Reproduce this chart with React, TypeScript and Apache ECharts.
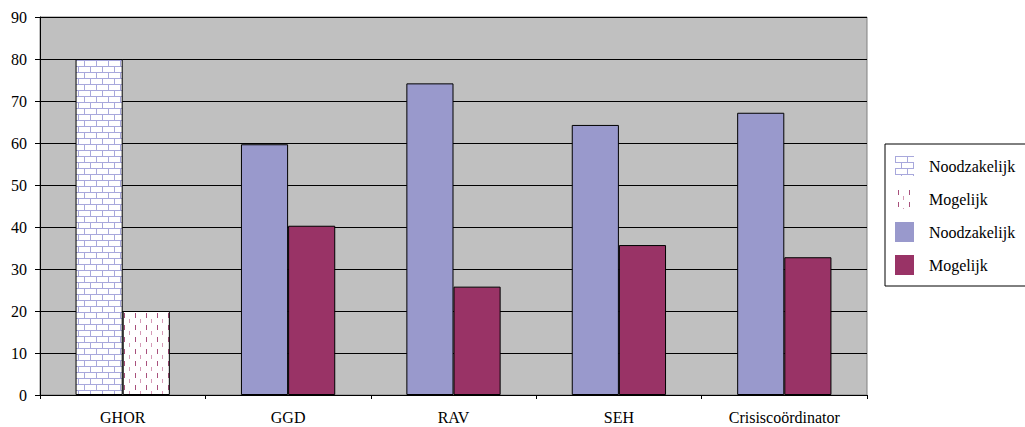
import React, { useEffect, useRef } from "react";
import * as echarts from "echarts";

// Categories and values (percent)
const categories = ["GHOR", "GGD", "RAV", "SEH", "Crisiscoördinator"];
const noodzakelijkGhor = [80, null, null, null, null];
const mogelijkGhor = [20, null, null, null, null];
const noodzakelijk = [null, 59.7, 74.2, 64.3, 67.2];
const mogelijk = [null, 40.3, 25.8, 35.7, 32.8];
const yTicks = { min: 0, max: 90, interval: 10 };

const FONT = '"Liberation Serif", "Times New Roman", Times, "DejaVu Serif", serif';
const BLUE = "#9999CC";
const WINE = "#993366";

function brickTile(): string {
  const c = document.createElement("canvas");
  c.width = 12;
  c.height = 12;
  const ctx = c.getContext("2d")!;
  ctx.fillStyle = "#ffffff";
  ctx.fillRect(0, 0, 12, 12);
  ctx.fillStyle = "#a8a8dc";
  ctx.fillRect(0, 0, 12, 1);
  ctx.fillRect(0, 6, 12, 1);
  ctx.fillRect(0, 0, 1, 6);
  ctx.fillRect(6, 6, 1, 6);
  return c.toDataURL();
}

function dashTile(): string {
  const c = document.createElement("canvas");
  c.width = 11;
  c.height = 12;
  const ctx = c.getContext("2d")!;
  ctx.fillStyle = "#ffffff";
  ctx.fillRect(0, 0, 11, 12);
  ctx.fillStyle = "#a8507c";
  ctx.fillRect(3, 1, 1, 5);
  ctx.fillStyle = "#d59ab6";
  ctx.fillRect(8, 7, 1, 4);
  return c.toDataURL();
}

export default function App() {
  const ref = useRef<HTMLDivElement>(null);

  useEffect(() => {
    if (!ref.current) return;
    const chart = echarts.init(ref.current, null, { renderer: "svg" });

    const brick = { image: brickTile(), repeat: "repeat", imageWidth: 12, imageHeight: 12 };
    const dash = { image: dashTile(), repeat: "repeat", imageWidth: 11, imageHeight: 12 };

    const barBase = {
      type: "bar",
      barGap: "0%",
      barCategoryGap: "43%",
    };

    chart.setOption({
      animation: false,
      textStyle: { fontFamily: FONT },
      grid: {
        left: 40,
        right: 158,
        top: 17,
        bottom: 32,
        show: true,
        backgroundColor: "#C0C0C0",
        borderColor: "#808080",
        borderWidth: 1,
      },
      legend: {
        orient: "vertical",
        left: 885,
        top: 144,
        padding: [12, 40, 11, 10],
        itemWidth: 19,
        itemHeight: 20,
        itemGap: 13,
        borderColor: "#000",
        borderWidth: 1,
        backgroundColor: "#fff",
        icon: "rect",
        itemStyle: { borderWidth: 0 },
        textStyle: { fontFamily: FONT, fontSize: 16, color: "#000", padding: [0, 0, 0, 10] },
        formatter: (name: string) => name.replace(" (GHOR)", ""),
        data: ["Noodzakelijk (GHOR)", "Mogelijk (GHOR)", "Noodzakelijk", "Mogelijk"],
      },
      xAxis: {
        type: "category",
        data: categories,
        axisLine: { lineStyle: { color: "#000", width: 1 } },
        axisTick: { show: true, length: 4, lineStyle: { color: "#000" } },
        axisLabel: { fontFamily: FONT, fontSize: 16, color: "#000", margin: 14 },
        splitLine: { show: false },
      },
      yAxis: {
        type: "value",
        min: yTicks.min,
        max: yTicks.max,
        interval: yTicks.interval,
        axisLine: { show: true, lineStyle: { color: "#000", width: 1 } },
        axisTick: { show: true, length: 5, lineStyle: { color: "#000" } },
        axisLabel: { fontFamily: FONT, fontSize: 16, color: "#000", margin: 13 },
        splitLine: { show: true, lineStyle: { color: "#000", width: 1 } },
      },
      series: [
        {
          ...barBase,
          name: "Noodzakelijk (GHOR)",
          stack: "n",
          data: noodzakelijkGhor,
          itemStyle: { color: brick, borderColor: "#000", borderWidth: 1 },
        },
        {
          ...barBase,
          name: "Mogelijk (GHOR)",
          stack: "m",
          data: mogelijkGhor,
          itemStyle: { color: dash, borderColor: "#000", borderWidth: 1 },
        },
        {
          ...barBase,
          name: "Noodzakelijk",
          stack: "n",
          data: noodzakelijk,
          itemStyle: { color: BLUE, borderColor: "#000", borderWidth: 1 },
        },
        {
          ...barBase,
          name: "Mogelijk",
          stack: "m",
          data: mogelijk,
          itemStyle: { color: WINE, borderColor: "#000", borderWidth: 1 },
        },
      ],
    });

    return () => chart.dispose();
  }, []);

  return (
    <div
      ref={ref}
      style={{ position: "fixed", left: 0, top: 0, width: 1025, height: 427, background: "#fff" }}
    />
  );
}
